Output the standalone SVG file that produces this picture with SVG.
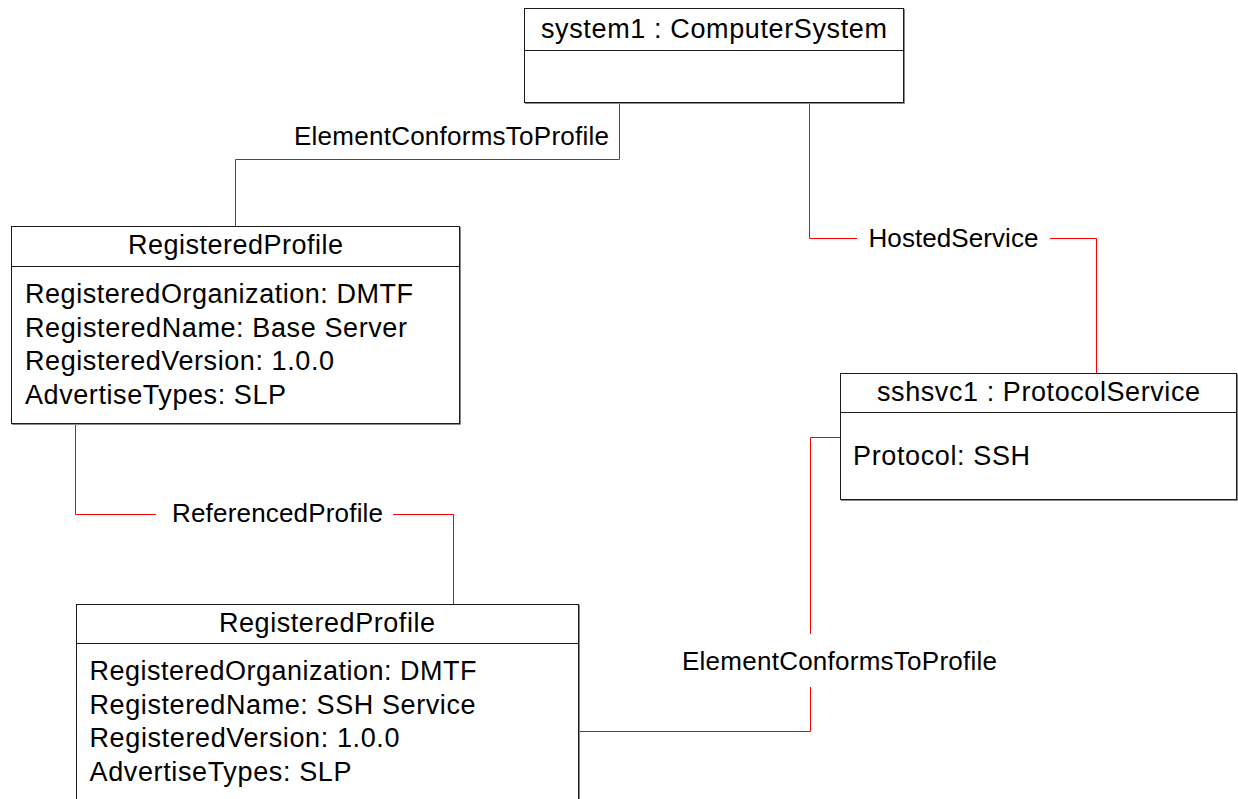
<svg xmlns="http://www.w3.org/2000/svg" width="1238" height="799" viewBox="0 0 1238 799">
<style>
  .box { fill: #ffffff; stroke: #1a1a1a; stroke-width: 1; }
  .shadow { fill: none; stroke: #8a8a8a; stroke-width: 1; }
  .div { stroke: #1a1a1a; stroke-width: 1; }
  .t { font-family: "Liberation Sans", Arial, sans-serif; font-size: 26px; fill: #000000; }
  .b { font-size: 27px; }
  .conn { fill: none; stroke: #ff0000; stroke-width: 1; }
</style>
<rect width="1238" height="799" fill="#ffffff"/>

<g id="connectors">
  <path class="conn" d="M619.5,103 V159.5 H235.5 V227"/>
  <path class="conn" d="M809.5,103 V238.5 H857"/>
  <path class="conn" d="M1050,238.5 H1096.5 V373"/>
  <path class="conn" d="M75.5,424 V514.5 H156"/>
  <path class="conn" d="M393,514.5 H453.5 V604"/>
  <path class="conn" d="M840,437.5 H810.5 V634"/>
  <path class="conn" d="M810.5,687 V731.5 H579"/>
  <text class="t" x="294" y="144.5" textLength="315" lengthAdjust="spacing">ElementConformsToProfile</text>
  <text class="t" x="868.5" y="246.5" textLength="170" lengthAdjust="spacing">HostedService</text>
  <text class="t" x="172" y="522" textLength="211" lengthAdjust="spacing">ReferencedProfile</text>
  <text class="t" x="682" y="670" textLength="315" lengthAdjust="spacing">ElementConformsToProfile</text>
</g>

<g id="system1">
  <rect class="box" x="524.5" y="8.5" width="379" height="94"/>
  <path class="shadow" d="M904.5,9 V103.5 H525"/>
  <line class="div" x1="524.5" y1="50.5" x2="903.5" y2="50.5"/>
  <text class="t b" x="541" y="38" textLength="346" lengthAdjust="spacing">system1 : ComputerSystem</text>
</g>

<g id="registeredProfile1">
  <rect class="box" x="11.5" y="226.5" width="448" height="197"/>
  <path class="shadow" d="M460.5,227 V424.5 H12"/>
  <line class="div" x1="11.5" y1="266.5" x2="459.5" y2="266.5"/>
  <text class="t b" x="128" y="254" textLength="215" lengthAdjust="spacing">RegisteredProfile</text>
  <text class="t b" x="25" y="303.3" textLength="388" lengthAdjust="spacing">RegisteredOrganization: DMTF</text>
  <text class="t b" x="25" y="337" textLength="382" lengthAdjust="spacing">RegisteredName: Base Server</text>
  <text class="t b" x="25" y="370.3" textLength="309" lengthAdjust="spacing">RegisteredVersion: 1.0.0</text>
  <text class="t b" x="25" y="404.3" textLength="261" lengthAdjust="spacing">AdvertiseTypes: SLP</text>
</g>

<g id="sshsvc1">
  <rect class="box" x="840.5" y="373.5" width="396" height="126"/>
  <path class="shadow" d="M1237.5,374 V500.5 H841"/>
  <line class="div" x1="840.5" y1="412.5" x2="1236.5" y2="412.5"/>
  <text class="t b" x="877" y="401" textLength="323" lengthAdjust="spacing">sshsvc1 : ProtocolService</text>
  <text class="t b" x="853" y="465" textLength="177" lengthAdjust="spacing">Protocol: SSH</text>
</g>

<g id="registeredProfile2">
  <rect class="box" x="76.5" y="604.5" width="502" height="210"/>
  <path class="shadow" d="M579.5,605 V815"/>
  <line class="div" x1="76.5" y1="643.5" x2="578.5" y2="643.5"/>
  <text class="t b" x="219" y="631.5" textLength="216" lengthAdjust="spacing">RegisteredProfile</text>
  <text class="t b" x="89.5" y="680.3" textLength="387" lengthAdjust="spacing">RegisteredOrganization: DMTF</text>
  <text class="t b" x="89.5" y="714" textLength="386" lengthAdjust="spacing">RegisteredName: SSH Service</text>
  <text class="t b" x="89.5" y="747.3" textLength="310" lengthAdjust="spacing">RegisteredVersion: 1.0.0</text>
  <text class="t b" x="89.5" y="781.3" textLength="262" lengthAdjust="spacing">AdvertiseTypes: SLP</text>
</g>
</svg>
